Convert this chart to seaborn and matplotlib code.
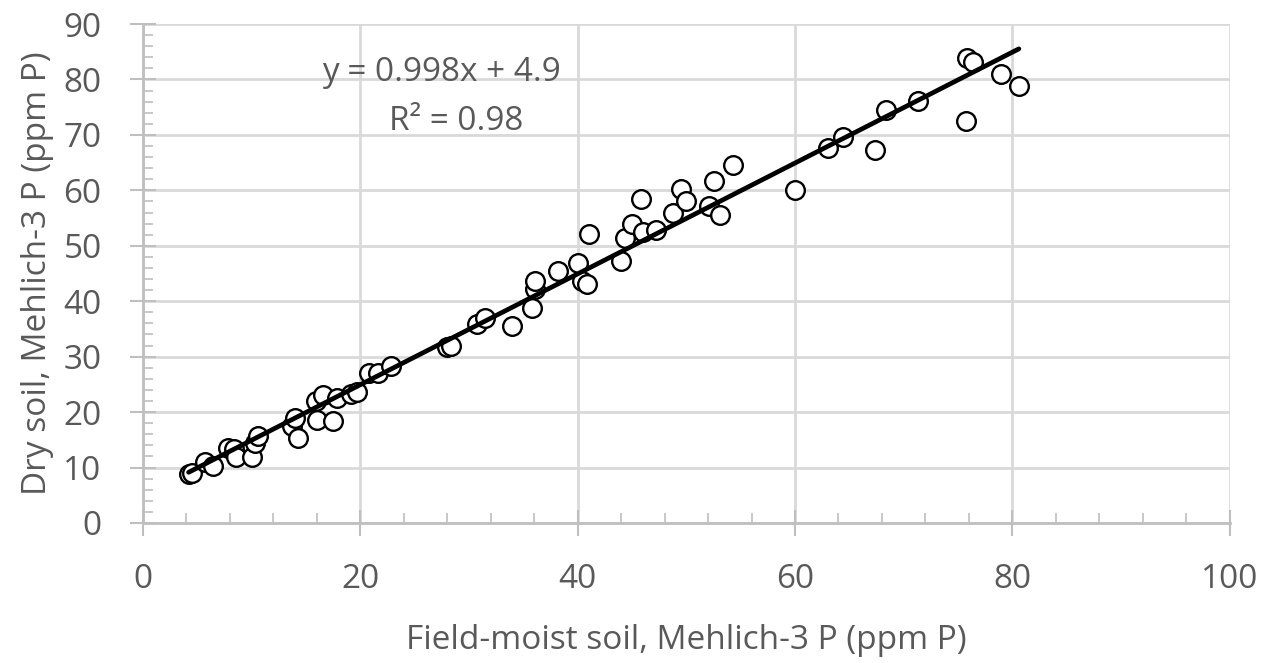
import numpy as np
import pandas as pd
import seaborn as sns
import matplotlib.pyplot as plt
from matplotlib.ticker import MultipleLocator

# ==================== DATA ====================
field_moist = [4.2, 4.5, 5.7, 6.4, 7.8, 8.4, 8.6, 10.0, 10.3, 10.6,
               13.7, 14.0, 14.3, 15.9, 16.0, 16.6, 17.5, 17.9, 19.1, 19.7,
               20.8, 21.6, 22.8, 28.0, 28.3, 30.7, 31.5, 34.0, 35.8, 36.1,
               36.1, 38.2, 40.0, 40.4, 40.9, 41.0, 44.0, 44.4, 45.0, 45.8,
               46.0, 47.2, 48.8, 49.5, 50.0, 52.1, 52.5, 53.1, 54.3, 60.0,
               63.0, 64.4, 67.4, 68.4, 71.3, 75.7, 75.8, 76.4, 79.0, 80.6]
dry_soil = [8.8, 9.0, 11.0, 10.3, 13.5, 13.3, 11.9, 11.9, 14.4, 15.7,
            17.5, 18.9, 15.4, 22.0, 18.6, 23.1, 18.4, 22.6, 23.3, 23.7,
            27.1, 27.1, 28.4, 31.8, 32.0, 35.9, 37.0, 35.5, 38.8, 42.2,
            43.7, 45.5, 46.9, 43.7, 43.1, 52.1, 47.3, 51.4, 54.0, 58.4,
            52.5, 52.9, 56.0, 60.3, 58.0, 57.1, 61.6, 55.6, 64.5, 60.0,
            67.6, 69.6, 67.2, 74.5, 76.1, 72.5, 83.8, 83.1, 81.0, 78.8]

equation_text = "y = 0.998x + 4.9"
r2_text = "R² = 0.98"

df = pd.DataFrame({"field": field_moist, "dry": dry_soil})

# ==================== STYLE ====================
sns.set_style("white")
plt.rcParams['font.family'] = ['Open Sans', 'DejaVu Sans']
TEXT_COLOR = "#595959"
AXIS_COLOR = "#BFBFBF"
GRID_COLOR = "#D9D9D9"
FS = 24

fig = plt.figure(figsize=(12.73, 6.63), dpi=100)
ax = fig.add_axes([0.1123, 0.2112, 0.8537, 0.7526])

ax.set_xlim(0, 100)
ax.set_ylim(0, 90)
ax.xaxis.set_major_locator(MultipleLocator(20))
ax.xaxis.set_minor_locator(MultipleLocator(4))
ax.yaxis.set_major_locator(MultipleLocator(10))
ax.yaxis.set_minor_locator(MultipleLocator(2))
ax.grid(True, which='major', color=GRID_COLOR, linewidth=2)
ax.set_axisbelow(True)

# ==================== PLOT ====================
sns.scatterplot(data=df, x="field", y="dry", ax=ax, marker='o', s=180,
                facecolor='white', edgecolor='black', linewidth=1.7, zorder=3)
sns.regplot(data=df, x="field", y="dry", ax=ax, scatter=False, ci=None,
            truncate=True, line_kws={'color': 'black', 'linewidth': 3.4, 'zorder': 4})

ax.text(27.5, 81.3, equation_text, ha='center', va='center', fontsize=FS, color=TEXT_COLOR)
ax.text(28.8, 72.5, r2_text, ha='center', va='center', fontsize=FS, color=TEXT_COLOR)

# axes / ticks
for side in ['top', 'right']:
    ax.spines[side].set_visible(False)
for side in ['left', 'bottom']:
    ax.spines[side].set_color(AXIS_COLOR)
    ax.spines[side].set_linewidth(2)
ax.tick_params(which='major', direction='inout', length=19.4, width=1.5,
               color=AXIS_COLOR, labelsize=FS, labelcolor=TEXT_COLOR)
ax.tick_params(axis='x', which='major', pad=19)
ax.tick_params(axis='y', which='major', pad=20)
ax.tick_params(which='minor', direction='in', length=7.2, width=1.2, color=AXIS_COLOR)
ax.tick_params(left=True, bottom=True, which='both')

ax.set_xlabel("Field-moist soil, Mehlich-3 P (ppm P)", fontsize=FS, color=TEXT_COLOR, labelpad=20)
ax.set_ylabel("Dry soil, Mehlich-3 P (ppm P)", fontsize=FS, color=TEXT_COLOR, labelpad=7)

plt.savefig("out.png", dpi=100)
plt.close()
